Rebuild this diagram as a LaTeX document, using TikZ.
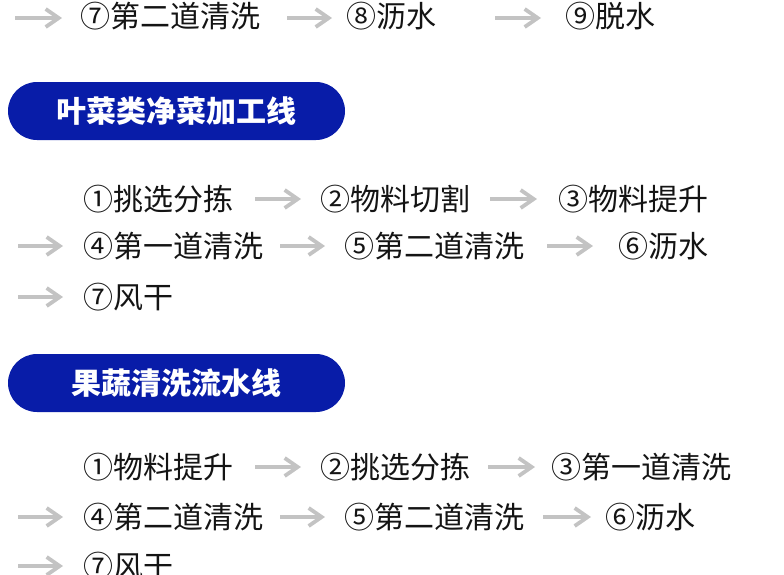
\documentclass[tikz,border=0pt]{standalone}
\usepackage{fontspec}
\setmainfont{Noto Sans CJK SC}
\usetikzlibrary{arrows.meta}
\definecolor{pillblue}{RGB}{8,28,168}
\definecolor{arrowgray}{RGB}{195,195,195}
\definecolor{txt}{RGB}{20,20,20}
\tikzset{
  stepitem/.style={anchor=west,inner sep=0pt,text=txt,font=\fontsize{30}{31}\selectfont},
  pill/.style={fill=pillblue,rounded corners=29pt,draw=none},
  pilltext/.style={inner sep=0pt,text=white,font=\fontsize{30}{31}\selectfont\bfseries},
  flow/.style={draw=arrowgray,line width=3.4pt,-{Straight Barb[length=13pt,width=18pt,line width=3.8pt]}}
}
\begin{document}
\begin{tikzpicture}[x=1pt,y=-1pt]
\useasboundingbox (0,0) rectangle (784,574);
\fill[white] (0,0) rectangle (784,574);
% row 0
\node[stepitem] (r0a) at (80,16) {⑦第二道清洗};
\node[stepitem] (r0b) at (346,16) {⑧沥水};
\node[stepitem] (r0c) at (565,16) {⑨脱水};
\coordinate (a01s) at (15,18); \coordinate (a01e) at (62,18);
\coordinate (a02s) at (287,18); \coordinate (a02e) at (332,18);
\coordinate (a03s) at (495,18); \coordinate (a03e) at (541,18);
\draw[flow] (a01s) -- (a01e);
\draw[flow] (a02s) -- (a02e);
\draw[flow] (a03s) -- (a03e);
% section 1
\draw[pill] (8,82) rectangle (345,140);
\node[pilltext] (t1) at (176.5,111) {叶菜类净菜加工线};
\node[stepitem] (s1a) at (83,199) {①挑选分拣};
\node[stepitem] (s1b) at (320,199) {②物料切割};
\node[stepitem] (s1c) at (558,199) {③物料提升};
\node[stepitem] (s1d) at (83,246) {④第一道清洗};
\node[stepitem] (s1e) at (344,246) {⑤第二道清洗};
\node[stepitem] (s1f) at (618,246) {⑥沥水};
\node[stepitem] (s1g) at (83,297) {⑦风干};
\coordinate (a11s) at (255,199); \coordinate (a11e) at (301,199);
\coordinate (a12s) at (490,199); \coordinate (a12e) at (537,199);
\coordinate (a13s) at (18,246); \coordinate (a13e) at (63,246);
\coordinate (a14s) at (280,246); \coordinate (a14e) at (325,246);
\coordinate (a15s) at (547,246); \coordinate (a15e) at (593,246);
\coordinate (a16s) at (18,297); \coordinate (a16e) at (63,297);
\draw[flow] (a11s) -- (a11e);
\draw[flow] (a12s) -- (a12e);
\draw[flow] (a13s) -- (a13e);
\draw[flow] (a14s) -- (a14e);
\draw[flow] (a15s) -- (a15e);
\draw[flow] (a16s) -- (a16e);
% section 2
\draw[pill] (8,354) rectangle (345,412);
\node[pilltext] (t2) at (176.5,383) {果蔬清洗流水线};
\node[stepitem] (s2a) at (83,467) {①物料提升};
\node[stepitem] (s2b) at (320,467) {②挑选分拣};
\node[stepitem] (s2c) at (551,467) {③第一道清洗};
\node[stepitem] (s2d) at (83,517) {④第二道清洗};
\node[stepitem] (s2e) at (344,517) {⑤第二道清洗};
\node[stepitem] (s2f) at (605,517) {⑥沥水};
\node[stepitem] (s2g) at (83,566) {⑦风干};
\coordinate (a21s) at (255,467); \coordinate (a21e) at (301,467);
\coordinate (a22s) at (488,467); \coordinate (a22e) at (535,467);
\coordinate (a23s) at (18,517); \coordinate (a23e) at (63,517);
\coordinate (a24s) at (280,517); \coordinate (a24e) at (325,517);
\coordinate (a25s) at (543,517); \coordinate (a25e) at (591,517);
\coordinate (a26s) at (18,566); \coordinate (a26e) at (63,566);
\draw[flow] (a21s) -- (a21e);
\draw[flow] (a22s) -- (a22e);
\draw[flow] (a23s) -- (a23e);
\draw[flow] (a24s) -- (a24e);
\draw[flow] (a25s) -- (a25e);
\draw[flow] (a26s) -- (a26e);
\end{tikzpicture}
\end{document}
